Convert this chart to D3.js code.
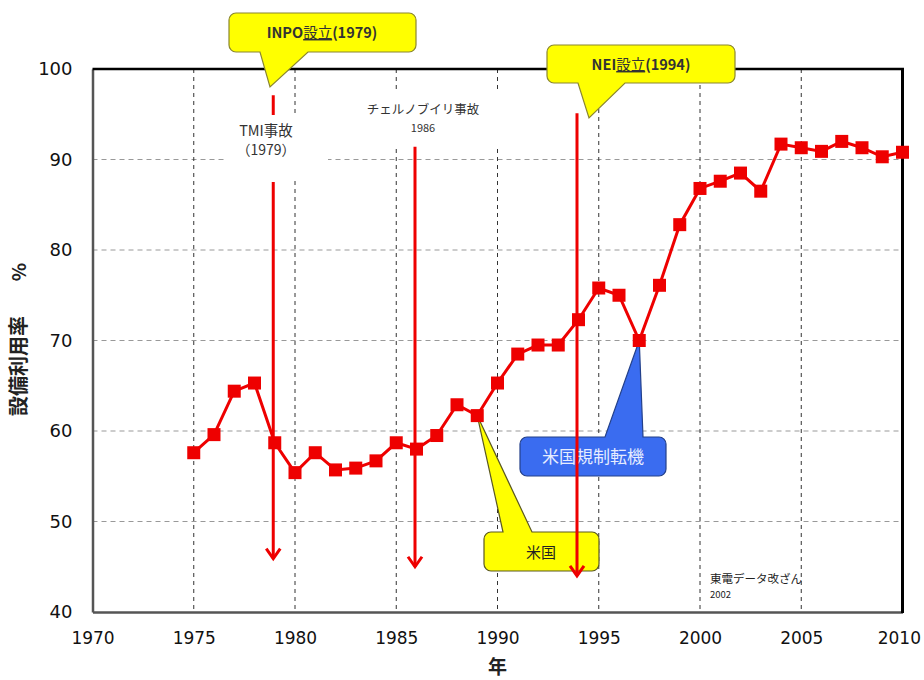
<!DOCTYPE html>
<html><head><meta charset="utf-8">
<script src="https://cdn.jsdelivr.net/npm/d3@7"></script>
<style>body{margin:0;background:#fff}svg{display:block}</style>
</head><body>
<svg id="chart" width="924" height="680"></svg>
<script>
// ---- data ----
const years = [1975,1976,1977,1978,1979,1980,1981,1982,1983,1984,1985,1986,1987,1988,1989,1990,1991,1992,1993,1994,1995,1996,1997,1998,1999,2000,2001,2002,2003,2004,2005,2006,2007,2008,2009,2010];
const utilization = [57.6,59.6,64.4,65.3,58.7,55.4,57.6,55.7,55.9,56.7,58.7,58.0,59.5,62.9,61.7,65.3,68.5,69.5,69.5,72.3,75.8,75.0,70.0,76.1,82.8,86.8,87.6,88.5,86.5,91.7,91.3,90.9,92.0,91.3,90.3,90.8];
const xTicks = [1970,1975,1980,1985,1990,1995,2000,2005,2010];
const yTicks = [40,50,60,70,80,90,100];
const arrowYears = [1979,1986,1994];
const arrowTop = [97.1,91.4,95.1];
const arrowBottom = [45.9,45.0,44.0];
const yTitleMain = "設備利用率";
const yTitleUnit = "%";
const xTitle = "年";

const FONT_NUM = "'DejaVu Sans', Verdana, sans-serif";
const FONT_JP = "'Noto Sans CJK JP', sans-serif";

const svg = d3.select("#chart");
const x = d3.scaleLinear().domain([1970,2010]).range([92.5,902.5]);
const y = d3.scaleLinear().domain([40,100]).range([612,69]);
const RED = "#ee0000";

// grid
svg.append("g").selectAll("line").data(yTicks.filter(v=>v>40&&v<100)).join("line")
  .attr("x1",x(1970)).attr("x2",x(2010)).attr("y1",d=>y(d)).attr("y2",d=>y(d))
  .attr("stroke","#999").attr("stroke-width",1).attr("stroke-dasharray","5,4");
svg.append("g").selectAll("line").data(xTicks.filter(v=>v>1970&&v<2010)).join("line")
  .attr("x1",d=>x(d)).attr("x2",d=>x(d)).attr("y1",y(100)).attr("y2",y(40))
  .attr("stroke","#333").attr("stroke-width",1).attr("stroke-dasharray","4,4");

// axes
const xAxis = d3.axisBottom(x).tickValues(xTicks).tickFormat(d3.format("d")).tickSize(0).tickPadding(20);
const gx = svg.append("g").attr("transform",`translate(0,${y(40)})`).call(xAxis);
gx.select(".domain").attr("stroke","#555").attr("stroke-width",2.5);
gx.selectAll("text").attr("font-family",FONT_NUM).attr("font-size",17).attr("fill","#111");
// last label pulled inward so it stays inside the page (as in the reference)
gx.selectAll(".tick").filter(d=>d===2010).select("text").attr("text-anchor","end").attr("dx",18);
const yAxis = d3.axisLeft(y).tickValues(yTicks).tickSize(0).tickPadding(20);
const gy = svg.append("g").attr("transform",`translate(${x(1970)},0)`).call(yAxis);
gy.select(".domain").attr("stroke","#555").attr("stroke-width",2.5);
gy.selectAll("text").attr("font-family",FONT_NUM).attr("font-size",18).attr("fill","#111");

// frame top/right
svg.append("line").attr("x1",x(1970)).attr("x2",x(2010)+1.5).attr("y1",y(100)).attr("y2",y(100)).attr("stroke","#000").attr("stroke-width",2.5);
svg.append("line").attr("x1",x(2010)).attr("x2",x(2010)).attr("y1",y(100)).attr("y2",y(40)+1).attr("stroke","#000").attr("stroke-width",3);

// axis titles
svg.append("text").attr("transform",`translate(26,366) rotate(-90)`).attr("text-anchor","middle")
  .attr("font-family",FONT_JP).attr("font-weight","bold").attr("font-size",20).attr("fill","#222").text(yTitleMain);
svg.append("text").attr("transform",`translate(26,272) rotate(-90)`).attr("text-anchor","middle")
  .attr("font-family",FONT_JP).attr("font-weight","bold").attr("font-size",19).attr("fill","#222").text(yTitleUnit);
svg.append("text").attr("x",x(1990)).attr("y",674).attr("text-anchor","middle")
  .attr("font-family",FONT_JP).attr("font-weight","bold").attr("font-size",19).attr("fill","#222").text(xTitle);

// text annotations with white backgrounds
svg.append("rect").attr("x",225).attr("y",115).attr("width",103).attr("height",65).attr("fill","#fff");
svg.append("rect").attr("x",350).attr("y",92).attr("width",150).attr("height",54).attr("fill","#fff");
const ann = svg.append("g").attr("font-family",FONT_JP).attr("fill","#333");
ann.append("text").attr("x",266).attr("y",136).attr("text-anchor","middle").attr("font-size",14.5).text("TMI事故");
ann.append("text").attr("x",266).attr("y",155).attr("text-anchor","middle").attr("font-size",14).text("（1979）");
ann.append("text").attr("x",423).attr("y",114).attr("text-anchor","middle").attr("font-size",12.5).text("チェルノブイリ事故");
ann.append("text").attr("x",423).attr("y",132).attr("text-anchor","middle").attr("font-size",11).text("1986");
ann.append("text").attr("x",710).attr("y",583).attr("font-size",11.5).attr("fill","#222").text("東電データ改ざん");
ann.append("text").attr("x",710).attr("y",598).attr("font-size",9.5).attr("fill","#222").text("2002");

// callouts
function callout(b, side, b1, b2, tip, r){
  const [x0,y0,x1,y1]=b; const p=d3.path();
  p.moveTo(x0+r,y0);
  if(side==="top"){p.lineTo(b1,y0);p.lineTo(tip[0],tip[1]);p.lineTo(b2,y0);}
  p.lineTo(x1-r,y0); p.arcTo(x1,y0,x1,y0+r,r);
  p.lineTo(x1,y1-r); p.arcTo(x1,y1,x1-r,y1,r);
  if(side==="bottom"){p.lineTo(b2,y1);p.lineTo(tip[0],tip[1]);p.lineTo(b1,y1);}
  p.lineTo(x0+r,y1); p.arcTo(x0,y1,x0,y1-r,r);
  p.lineTo(x0,y0+r); p.arcTo(x0,y0,x0+r,y0,r);
  p.closePath(); return p.toString();
}
const cg = svg.append("g");
cg.append("path").attr("d",callout([229,13,416,52],"bottom",260,308,[270,87],7)).attr("fill","#ffff00").attr("stroke","#8a8630").attr("stroke-width",1.2);
cg.append("path").attr("d",callout([547,45,735,83],"bottom",578,625,[589,118],7)).attr("fill","#ffff00").attr("stroke","#8a8630").attr("stroke-width",1.2);
const i97 = years.indexOf(1997), i89 = years.indexOf(1989);
cg.append("path").attr("d",callout([520,437,666,476],"top",605,643,[x(1997),y(utilization[i97])],7)).attr("fill","#3a6cf0").attr("stroke","#23408a").attr("stroke-width",1.2);
cg.append("path").attr("d",callout([484,532,599,571],"top",503,532,[x(1989),y(utilization[i89])],7)).attr("fill","#ffff00").attr("stroke","#5a5820").attr("stroke-width",1.2);

function labelSet(t, cx, cy, head, mid, tail){
  const tx = t.append("text").attr("x",cx).attr("y",cy).attr("text-anchor","middle")
    .attr("font-family",FONT_JP).attr("font-weight","bold").attr("font-size",14.5).attr("fill","#333");
  tx.append("tspan").text(head);
  tx.append("tspan").attr("text-decoration","underline").attr("font-weight","normal").text(mid);
  tx.append("tspan").text(tail);
}
labelSet(cg,322,38,"INPO","設立","(1979)");
labelSet(cg,641,70,"NEI","設立","(1994)");
cg.append("text").attr("x",593).attr("y",463).attr("text-anchor","middle").attr("font-family",FONT_JP).attr("font-size",17).attr("fill","#e6ecff").text("米国規制転機");
cg.append("text").attr("x",541).attr("y",558).attr("text-anchor","middle").attr("font-family",FONT_JP).attr("font-size",15).attr("fill","#222").text("米国");

// arrows
const ag = svg.append("g").attr("stroke",RED).attr("fill","none").attr("stroke-width",3);
arrowYears.forEach((yr,i)=>{
  const ax=x(yr)-1.5, top=y(arrowTop[i]), bot=y(arrowBottom[i]);
  if(yr===1979){
    ag.append("line").attr("x1",ax).attr("x2",ax).attr("y1",top).attr("y2",115);
    ag.append("line").attr("x1",ax).attr("x2",ax).attr("y1",182).attr("y2",bot);
  } else {
    ag.append("line").attr("x1",ax).attr("x2",ax).attr("y1",top).attr("y2",bot);
  }
  ag.append("path").attr("d",`M${ax-7},${bot-10}L${ax},${bot}L${ax+7},${bot-10}`).attr("stroke-linejoin","miter");
});

// series
const pts = years.map((yr,i)=>[x(yr),y(utilization[i])]);
svg.append("path").attr("d",d3.line()(pts)).attr("fill","none").attr("stroke",RED).attr("stroke-width",3);
svg.append("g").selectAll("rect").data(years).join("rect")
  .attr("x",(d,i)=>x(d)-6.5).attr("y",(d,i)=>y(utilization[i])-6.5).attr("width",13).attr("height",13).attr("fill",RED);
</script>
</body></html>
